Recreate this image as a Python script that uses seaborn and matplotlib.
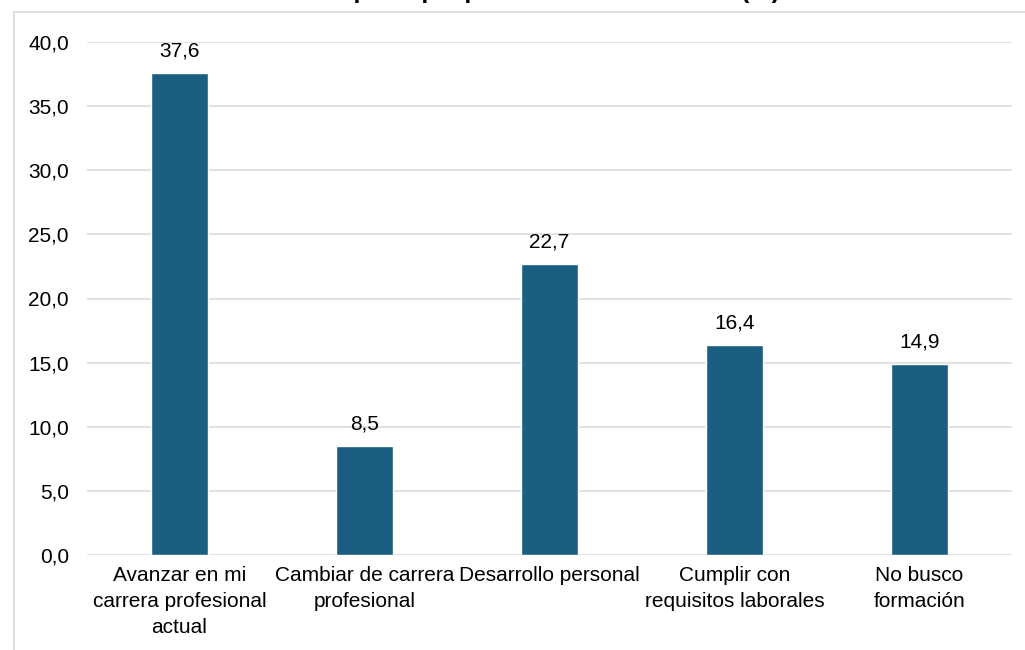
import matplotlib
matplotlib.use("Agg")
import matplotlib.pyplot as plt
import numpy as np
import pandas as pd
import seaborn as sns
from matplotlib.patches import Rectangle

# datos
categorias = [
    "Avanzar en mi\ncarrera profesional\nactual",
    "Cambiar de carrera\nprofesional",
    "Desarrollo personal",
    "Cumplir con\nrequisitos laborales",
    "No busco\nformación",
]
porcentajes = [37.6, 8.5, 22.7, 16.4, 14.9]
ticks_y = [0, 5, 10, 15, 20, 25, 30, 35, 40]
titulo = "Motivo principal para buscar formación (%)"

df = pd.DataFrame({"Categoria": categorias, "Porcentaje": porcentajes})

sns.set_style("white")
plt.rcParams["font.family"] = ["Liberation Sans", "DejaVu Sans"]
plt.rcParams["text.color"] = "black"
plt.rcParams["xtick.color"] = "black"
plt.rcParams["ytick.color"] = "black"

fig = plt.figure(figsize=(10.25, 6.5), dpi=100)
ax = fig.add_axes([87 / 1025, 95 / 650, 925 / 1025, 513 / 650])

sns.barplot(data=df, x="Categoria", y="Porcentaje", color="#1A5F81",
            saturation=1, width=0.31, ax=ax)

ax.set_ylim(0, 40)
ax.set_yticks(ticks_y)
ax.set_yticklabels([f"{t:.1f}".replace(".", ",") for t in ticks_y], fontsize=15)
ax.tick_params(axis="y", length=0, pad=13, labelcolor="black")
ax.tick_params(axis="x", length=0, pad=8, labelsize=15, labelcolor="black")
for lab in ax.get_xticklabels():
    lab.set_linespacing(1.45)
ax.set_xlabel("")
ax.set_ylabel("")
ax.yaxis.grid(True, color="#d9d9d9", linewidth=1.1)
ax.set_axisbelow(True)
sns.despine(ax=ax, left=True, bottom=True)

# etiquetas de datos
ax.bar_label(ax.containers[0], labels=[f"{v:.1f}".replace(".", ",") for v in porcentajes],
             padding=9, fontsize=15, color="black")

# borde del area del grafico (recortado)
fig.add_artist(Rectangle((14 / 1025, -0.1), 1.0, (650 - 12) / 650 + 0.1,
                         transform=fig.transFigure, fill=False,
                         edgecolor="#d9d9d9", linewidth=1.2))

# titulo (recortado en la parte superior)
fig.text(0.51, 1.0 + 2 / 650, titulo, ha="center", va="baseline", fontsize=18,
         fontweight="bold", color="black")

fig.savefig("out.png", dpi=100)
